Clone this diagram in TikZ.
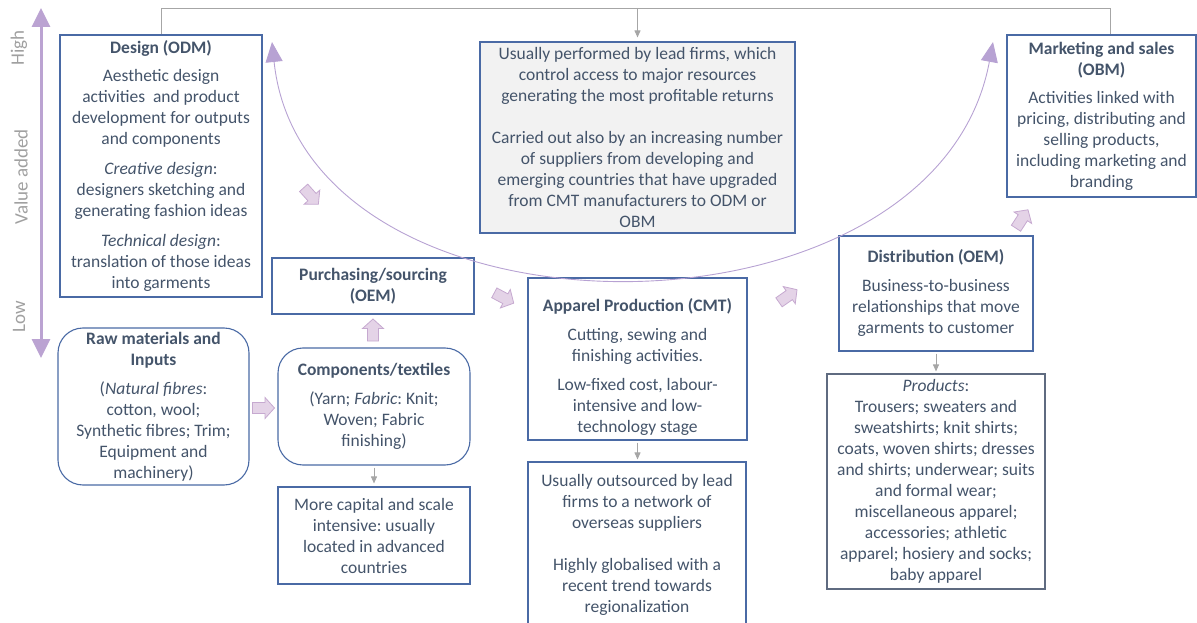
\documentclass[tikz,border=0pt]{standalone}
\usepackage{fontspec}
\setmainfont{Carlito}
\usetikzlibrary{arrows.meta,calc}
\frenchspacing
\definecolor{boxblue}{HTML}{4A6AA5}
\definecolor{prodgray}{HTML}{5F6B80}
\definecolor{txt}{HTML}{44546A}
\definecolor{gline}{HTML}{A6A6A6}
\definecolor{curvecol}{HTML}{B7A2D3}
\definecolor{axiscol}{HTML}{BBA3D2}
\definecolor{blkfill}{HTML}{E4D3E7}
\definecolor{blkdraw}{HTML}{C6A9D0}
\definecolor{ctrfill}{HTML}{F2F2F2}
\definecolor{axlabcol}{HTML}{A0A0A0}
\tikzset{
  box/.style={draw=boxblue, line width=1.1pt, text=txt, align=center,
    font=\frenchspacing\fontsize{17.5}{21}\selectfont, inner sep=0pt},
  rbox/.style={box, rounded corners=25pt},
  plain/.style={text=txt, align=center, font=\frenchspacing\fontsize{17.5}{21}\selectfont, inner sep=0pt},
  garrow/.style={draw=gline, line width=0.9pt, -{Triangle[length=7pt,width=6pt]}},
  gconn/.style={draw=gline, line width=0.9pt},
  blk/.style={draw=blkdraw, fill=blkfill, line width=0.8pt, line join=miter},
  axlab/.style={text=axlabcol, font=\fontsize{19}{22}\selectfont, inner sep=0pt},
}
\newcommand{\blockarrow}[3]{%
  \draw[blk, shift={(#1,#2)}, rotate=#3]
    (-11,-5.5) -- (1.5,-5.5) -- (1.5,-10.5) -- (11,0) -- (1.5,10.5) -- (1.5,5.5) -- (-11,5.5) -- cycle;}
\begin{document}
\begin{tikzpicture}[x=1pt,y=-1pt]
\useasboundingbox (0,0) rectangle (1197,623);

% value-added axis
\coordinate (ax1) at (41,8);
\coordinate (ax2) at (41,358);
\draw[draw=axiscol, line width=3pt,
  {Triangle[length=19pt,width=18pt,fill=axiscol]}-{Triangle[length=19pt,width=18pt,fill=axiscol]}] (ax1) -- (ax2);
\node[axlab, rotate=90] (high) at (19,48) {High};
\node[axlab, rotate=90] (vadd) at (21,177) {Value added};
\node[axlab, rotate=90] (low) at (19,317) {Low};

% boxes
\node[box, minimum width=202pt, minimum height=262pt] (design) at (161,166) {%
\textbf{Design (ODM)}\\[7pt]
Aesthetic design\\
activities\ \ and product\\
development for outputs\\
and components\\[9pt]
\textit{Creative design}:\\
designers sketching and\\
generating fashion ideas\\[9pt]
\textit{Technical design}:\\
translation of those ideas\\
into garments};

\node[box, fill=ctrfill, minimum width=315pt, minimum height=191pt] (ctr) at (637.5,137.5) {%
Usually performed by lead firms, which\\
control access to major resources\\
generating the most profitable returns\\[21pt]
Carried out also by an increasing number\\
of suppliers from developing and\\
emerging countries that have upgraded\\
from CMT manufacturers to ODM or\\
OBM};

\node[box, minimum width=189pt, minimum height=162pt] (mkt) at (1101.5,116) {%
\textbf{Marketing and sales}\\
\textbf{(OBM)}\\[7pt]
Activities linked with\\
pricing, distributing and\\
selling products,\\
including marketing and\\
branding};

\node[box, minimum width=202pt, minimum height=56pt] (purch) at (373,286) {%
\textbf{Purchasing/sourcing}\\
\textbf{(OEM)}};

\node[box, minimum width=219pt, minimum height=162pt] (app) at (637.5,359) {};
\node[plain] (appT) at (637.5,367) {%
\textbf{Apparel Production (CMT)}\\[8pt]
Cutting, sewing and\\
finishing activities.\\[8pt]
Low-fixed cost, labour-\\
intensive and low-\\
technology stage};

\node[box, minimum width=218pt, minimum height=166pt] (outs) at (637,545) {%
Usually outsourced by lead\\
firms to a network of\\
overseas suppliers\\[21pt]
Highly globalised with a\\
recent trend towards\\
regionalization};

\node[box, minimum width=194pt, minimum height=115pt] (dist) at (936,293.5) {%
\textbf{Distribution (OEM)}\\[8pt]
Business-to-business\\
relationships that move\\
garments to customer};

\node[box, draw=prodgray, minimum width=218pt, minimum height=215pt] (prod) at (936,481.5) {%
\textit{Products}:\\
Trousers; sweaters and\\
sweatshirts; knit shirts;\\
coats, woven shirts; dresses\\
and shirts; underwear; suits\\
and formal wear;\\
miscellaneous apparel;\\
accessories; athletic\\
apparel; hosiery and socks;\\
baby apparel};

\node[rbox, minimum width=191pt, minimum height=157pt] (raw) at (153.5,406.5) {%
\textbf{Raw materials and}\\
\textbf{Inputs}\\[8pt]
(\textit{Natural fibres}:\\
cotton, wool;\\
Synthetic fibres; Trim;\\
Equipment and\\
machinery)};

\node[rbox, minimum width=192pt, minimum height=117pt] (comp) at (374,406.5) {%
\textbf{Components/textiles}\\[8pt]
(Yarn; \textit{Fabric}: Knit;\\
Woven; Fabric\\
finishing)};

\node[box, minimum width=192pt, minimum height=97pt] (more) at (374,535.5) {%
More capital and scale\\
intensive: usually\\
located in advanced\\
countries};

% grey connectors
\coordinate (tr) at (1110,8);
\draw[gconn] (design.north) |- (tr) -- (tr |- mkt.north);
\draw[garrow, shorten >=4pt] (ctr.north |- tr) -- (ctr.north);
\draw[garrow, shorten <=2pt, shorten >=3pt] (comp) -- (more);
\draw[garrow, shorten <=2pt, shorten >=2pt] (app.south) -- (app.south |- outs.north);
\draw[garrow, shorten <=2pt, shorten >=2pt] (dist) -- (prod);

% big curved double arrow
\coordinate (cl) at (272,42);
\coordinate (cr) at (993,42);
\draw[draw=curvecol, line width=0.9pt,
  {Triangle[length=20pt,width=17pt,fill=curvecol]}-{Triangle[length=20pt,width=17pt,fill=curvecol]}]
  (cl) .. controls (305,355) and (935,355) .. (cr);

% block arrows
\blockarrow{263.5}{408}{0}
\blockarrow{373}{330}{90}
\blockarrow{504}{298}{-28}
\blockarrow{311}{196}{-48}
\blockarrow{788}{296}{35}
\blockarrow{1022}{219}{57}
\end{tikzpicture}
\end{document}
